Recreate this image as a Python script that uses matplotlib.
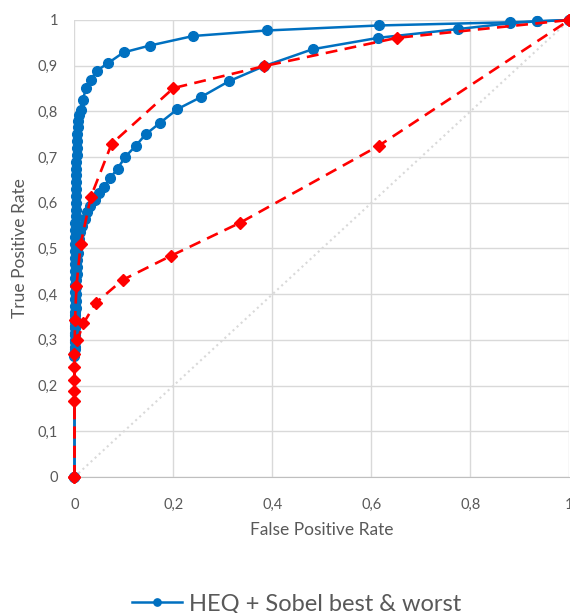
import numpy as np
from matplotlib import pyplot as plt

# ROC points
best_fpr = [0, 0, 0.001, 0.001, 0.001, 0.001, 0.001, 0.001, 0.001, 0.001, 0.001, 0.001,
            0.001, 0.001, 0.002, 0.002, 0.002, 0.002, 0.002, 0.002, 0.002, 0.003, 0.003,
            0.003, 0.003, 0.003, 0.004, 0.004, 0.004, 0.004, 0.005, 0.005, 0.006, 0.006,
            0.007, 0.008, 0.010, 0.0125, 0.017, 0.023, 0.033, 0.045, 0.067, 0.099, 0.152,
            0.24, 0.388, 0.615, 0.88, 0.934, 1]
best_tpr = [0, 0.27, 0.285, 0.30, 0.315, 0.33, 0.345, 0.36, 0.375, 0.39, 0.405, 0.42,
            0.435, 0.45, 0.465, 0.48, 0.495, 0.51, 0.525, 0.54, 0.555, 0.57, 0.585,
            0.60, 0.615, 0.63, 0.645, 0.66, 0.675, 0.69, 0.705, 0.72, 0.735, 0.75,
            0.765, 0.78, 0.792, 0.803, 0.825, 0.851, 0.869, 0.889, 0.905, 0.929, 0.944,
            0.965, 0.977, 0.988, 0.995, 0.997, 1]

worst_fpr = [0, 0, 0.001, 0.001, 0.001, 0.002, 0.002, 0.002, 0.003, 0.003, 0.003, 0.004,
             0.004, 0.005, 0.005, 0.006, 0.007, 0.008, 0.009, 0.012, 0.016, 0.021, 0.026,
             0.032, 0.041, 0.05, 0.06, 0.072, 0.087, 0.103, 0.124, 0.144, 0.173, 0.208,
             0.255, 0.312, 0.383, 0.481, 0.614, 0.774, 0.88, 0.934, 1]
worst_tpr = [0, 0.265, 0.28, 0.295, 0.31, 0.325, 0.34, 0.355, 0.37, 0.385, 0.40, 0.415,
             0.43, 0.445, 0.46, 0.475, 0.49, 0.505, 0.52, 0.535, 0.55, 0.565, 0.58,
             0.593, 0.606, 0.621, 0.634, 0.654, 0.675, 0.701, 0.725, 0.75, 0.775, 0.805,
             0.831, 0.866, 0.899, 0.936, 0.961, 0.98, 0.993, 0.997, 1]

red_best_fpr = [0, 0, 0, 0.001, 0.004, 0.0125, 0.033, 0.075, 0.2, 0.383, 0.652, 1]
red_best_tpr = [0, 0.188, 0.241, 0.344, 0.418, 0.51, 0.613, 0.729, 0.851, 0.899, 0.961, 1]

red_worst_fpr = [0, 0, 0, 0, 0.006, 0.018, 0.043, 0.097, 0.195, 0.334, 0.615, 1]
red_worst_tpr = [0, 0.166, 0.212, 0.269, 0.30, 0.336, 0.381, 0.431, 0.484, 0.556, 0.725, 1]

x_ticks = [0, 0.2, 0.4, 0.6, 0.8, 1]
x_labels = ['0', '0,2', '0,4', '0,6', '0,8', '1']
y_ticks = [0, 0.1, 0.2, 0.3, 0.4, 0.5, 0.6, 0.7, 0.8, 0.9, 1]
y_labels = ['0', '0,1', '0,2', '0,3', '0,4', '0,5', '0,6', '0,7', '0,8', '0,9', '1']

plt.rcParams['font.family'] = ['Lato', 'DejaVu Sans']
text_gray = '#595959'
grid_gray = '#d9d9d9'
blue = '#0070c0'
red = '#ff0000'

fig = plt.figure(figsize=(5.7, 6.13), dpi=100)
ax = fig.add_axes([0.1307, 0.2219, 0.8684, 0.7455])

ax.plot([0, 1], [0, 1], color=grid_gray, linestyle=':', linewidth=1.5, zorder=1)

ax.plot(best_fpr, best_tpr, color=blue, linewidth=1.8, marker='o', markersize=7,
        clip_on=False, zorder=3, label='HEQ + Sobel best & worst')
ax.plot(worst_fpr, worst_tpr, color=blue, linewidth=1.8, marker='o', markersize=7,
        clip_on=False, zorder=3)
ax.plot(red_best_fpr, red_best_tpr, color=red, linewidth=1.9, linestyle=(0, (4.5, 2.8)),
        marker='D', markersize=6.5, clip_on=False, zorder=4)
ax.plot(red_worst_fpr, red_worst_tpr, color=red, linewidth=1.9, linestyle=(0, (4.5, 2.8)),
        marker='D', markersize=6.5, clip_on=False, zorder=4)

ax.set_xlim(0, 1)
ax.set_ylim(0, 1)
ax.set_xticks(x_ticks)
ax.set_xticklabels(x_labels)
ax.set_yticks(y_ticks)
ax.set_yticklabels(y_labels)
ax.tick_params(length=0, labelsize=10.5, labelcolor=text_gray)
ax.tick_params(axis='x', pad=15)
ax.tick_params(axis='y', pad=12)
ax.grid(True, color=grid_gray, linewidth=1)
ax.set_axisbelow(True)
for side in ['top', 'right', 'left']:
    ax.spines[side].set_visible(False)
ax.spines['bottom'].set_color('#bfbfbf')

ax.set_xlabel('False Positive Rate', fontsize=12.5, color=text_gray, labelpad=7)
ax.set_ylabel('True Positive Rate', fontsize=12.5, color=text_gray, labelpad=7)

ax.legend(loc='upper center', bbox_to_anchor=(0.52, 0.047), bbox_transform=fig.transFigure,
          frameon=False, fontsize=17, handlelength=2.1, handletextpad=0.3,
          markerscale=0.75, labelcolor=text_gray, borderaxespad=0)

fig.savefig('out.png', dpi=100)
